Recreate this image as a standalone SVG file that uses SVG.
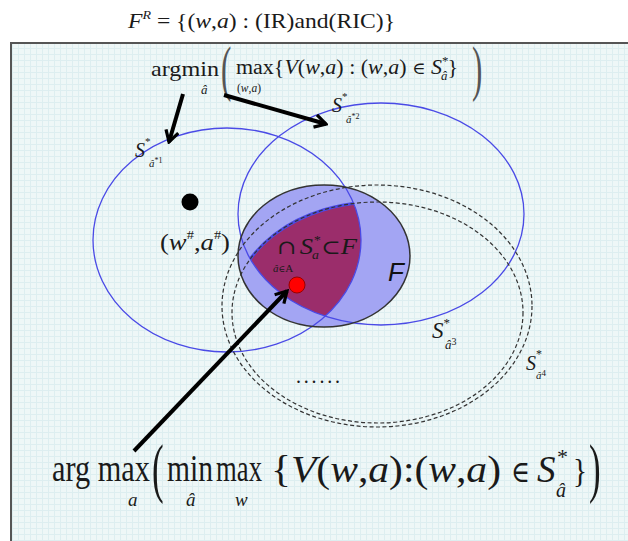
<svg xmlns="http://www.w3.org/2000/svg" width="628" height="541" viewBox="0 0 628 541">
<defs>
<pattern id="grid" width="6" height="6" patternUnits="userSpaceOnUse">
<rect width="6" height="6" fill="#eef7f7"/>
<path d="M0 0.5H6M0.5 0V6" stroke="#ddeef0" stroke-width="1"/>
</pattern>
<clipPath id="c1"><ellipse cx="227" cy="240" rx="134" ry="112"/></clipPath>
<clipPath id="c2"><ellipse cx="381" cy="214" rx="143" ry="111"/></clipPath>
<marker id="ah" viewBox="0 0 10 10" refX="8.5" refY="5" markerWidth="4" markerHeight="4" orient="auto" markerUnits="strokeWidth">
<path d="M1.5 1L8.5 5L1.5 9" fill="none" stroke="#000" stroke-width="2"/>
</marker>
<style>
.t{font-family:"Liberation Serif","Times New Roman",serif;fill:#1a1a1a}
.i{font-style:italic}
.sym{font-family:"DejaVu Serif","DejaVu Sans",serif}
.blue{fill:none;stroke:#4a4ae6;stroke-width:1.3}
.dash{fill:none;stroke:#333;stroke-width:1.2;stroke-dasharray:4 2.5}
.arrow{fill:none;stroke:#000;stroke-width:4;marker-end:url(#ah)}
.paren{fill:#555}
</style>
</defs>
<rect width="628" height="541" fill="#ffffff"/>
<rect x="11" y="43" width="640" height="520" fill="url(#grid)" stroke="#555" stroke-width="2"/>

<g id="title">
<text class="t" x="128" y="28" font-size="22" textLength="267" lengthAdjust="spacingAndGlyphs"><tspan class="i">F</tspan><tspan class="i" font-size="13" dy="-9">R</tspan><tspan dy="9"> = {(</tspan><tspan class="i">w</tspan>,<tspan class="i">a</tspan>) : (IR)and(RIC)}</text>
</g>

<g id="F">
<ellipse cx="324" cy="256" rx="86" ry="71" fill="#a3a5f3"/>
</g>
<g id="intersection">
<g clip-path="url(#c1)"><g clip-path="url(#c2)">
<ellipse cx="377.5" cy="312.5" rx="145.5" ry="110.5" fill="#9b2d6b" stroke="#4a4ae6" stroke-width="3"/>
</g></g>
</g>
<g id="S1"><ellipse class="blue" cx="227" cy="240" rx="134" ry="112"/></g>
<g id="S2"><ellipse class="blue" cx="381" cy="214" rx="143" ry="111"/></g>
<g id="S3"><ellipse class="dash" cx="377.5" cy="312.5" rx="145.5" ry="110.5"/></g>
<g id="S4"><ellipse class="dash" cx="377" cy="306" rx="155" ry="121"/></g>
<g id="F-outline"><ellipse cx="324" cy="256" rx="86" ry="71" fill="none" stroke="#333" stroke-width="1.5"/></g>

<g id="w-sharp">
<circle cx="190" cy="202" r="8.5" fill="#000"/>
<text class="t" x="160" y="250" font-size="24" textLength="70" lengthAdjust="spacingAndGlyphs">(<tspan class="i">w</tspan><tspan font-size="13" dy="-11">#</tspan><tspan dy="11">,</tspan><tspan class="i">a</tspan><tspan font-size="13" dy="-11">#</tspan><tspan dy="11">)</tspan></text>
</g>
<g id="opt-point"><circle cx="297" cy="285" r="8" fill="#ff0000" stroke="#990000" stroke-width="1"/></g>

<g id="labels">
<text class="t" x="277" y="254" font-size="23" textLength="80" lengthAdjust="spacingAndGlyphs"><tspan class="sym" font-size="20">∩</tspan><tspan class="i" dx="3">S</tspan><tspan class="i" font-size="12" dy="-10">*</tspan><tspan class="i" font-size="12" dx="-7" dy="15">a</tspan><tspan class="sym" font-size="20" dy="-5" dx="2">⊂</tspan><tspan class="i">F</tspan></text>
<text class="t" x="273" y="272" font-size="11"><tspan class="i">â</tspan><tspan class="sym" font-size="9">∈</tspan>A</text>
<text x="388" y="281" font-family="Liberation Sans, Arial, sans-serif" font-style="italic" font-size="26" fill="#111">F</text>
<text class="t" x="135" y="157" font-size="20"><tspan class="i">S</tspan><tspan font-size="11" dy="-12">*</tspan></text>
<text class="t" x="149" y="167" font-size="11"><tspan class="i">â</tspan><tspan font-size="8" dy="-4">*1</tspan></text>
<text class="t" x="332" y="112" font-size="20"><tspan class="i">S</tspan><tspan font-size="11" dy="-12">*</tspan></text>
<text class="t" x="346" y="123" font-size="11"><tspan class="i">â</tspan><tspan font-size="8" dy="-4">*2</tspan></text>
<text class="t" x="432" y="338" font-size="23"><tspan class="i">S</tspan><tspan font-size="13" dy="-11">*</tspan></text>
<text class="t" x="445" y="349" font-size="13"><tspan class="i">â</tspan><tspan font-size="10" dy="-4">3</tspan></text>
<text class="t" x="526" y="370" font-size="20"><tspan class="i">S</tspan><tspan font-size="12" dy="-12">*</tspan></text>
<text class="t" x="536" y="379" font-size="11"><tspan class="i">â</tspan><tspan font-size="9" dy="-3">4</tspan></text>
<text class="t" x="296" y="383" font-size="20" fill="#333" textLength="44">......</text>
</g>

<g id="objective-min">
<text class="t" x="151" y="76" font-size="22" textLength="68" lengthAdjust="spacingAndGlyphs">argmin</text>
<text class="t i" x="201" y="94" font-size="13">â</text>
<text class="t paren" font-size="31" transform="translate(221,89) scale(1,2)">(</text>
<text class="t" x="236" y="74" font-size="20.5" textLength="222" lengthAdjust="spacingAndGlyphs">max{<tspan class="i">V</tspan>(<tspan class="i">w</tspan>,<tspan class="i">a</tspan>) : (<tspan class="i">w</tspan>,<tspan class="i">a</tspan>) <tspan class="sym" font-size="17">∈</tspan> <tspan class="i">S</tspan><tspan font-size="12" dy="-9">*</tspan><tspan class="i" font-size="12" dx="-7" dy="15">â</tspan><tspan dy="-6">}</tspan></text>
<text class="t" x="237" y="92" font-size="11.5">(<tspan class="i">w</tspan>,<tspan class="i">a</tspan>)</text>
<text class="t paren" font-size="31" transform="translate(472,89) scale(1,2)">)</text>
</g>

<g id="objective-max">
<text class="t" font-size="31" transform="translate(52,481) scale(1,1.22)" textLength="98" lengthAdjust="spacingAndGlyphs">arg max</text>
<text class="t i" x="128" y="506" font-size="19">a</text>
<text class="t" font-size="35" transform="translate(152,490) scale(1,1.9)">(</text>
<text class="t" font-size="31" transform="translate(167,481) scale(1,1.22)" textLength="46" lengthAdjust="spacingAndGlyphs">min</text>
<text class="t i" x="186" y="506" font-size="19">â</text>
<text class="t" font-size="31" transform="translate(216,481) scale(1,1.22)" textLength="46" lengthAdjust="spacingAndGlyphs">max</text>
<text class="t i" x="235" y="506" font-size="19">w</text>
<text class="t" x="271" y="482" font-size="37" textLength="230" lengthAdjust="spacingAndGlyphs">{<tspan class="i">V</tspan>(<tspan class="i">w</tspan>,<tspan class="i">a</tspan>):(<tspan class="i">w</tspan>,<tspan class="i">a</tspan>)</text>
<text class="t sym" x="511" y="482" font-size="30" textLength="19" lengthAdjust="spacingAndGlyphs">∈</text>
<text class="t i" x="537" y="482" font-size="37">S</text>
<text class="t" x="557" y="464" font-size="22">*</text>
<text class="t i" x="556" y="497" font-size="20">â</text>
<text class="t" x="573" y="482" font-size="34" textLength="14" lengthAdjust="spacingAndGlyphs">}</text>
<text class="t" font-size="35" transform="translate(589,490) scale(1,1.9)">)</text>
</g>

<g id="connectors">
<path class="arrow" d="M183 94L169 142"/>
<path class="arrow" d="M224 95L326 124"/>
<path class="arrow" d="M134 451L287 291"/>
</g>
</svg>
